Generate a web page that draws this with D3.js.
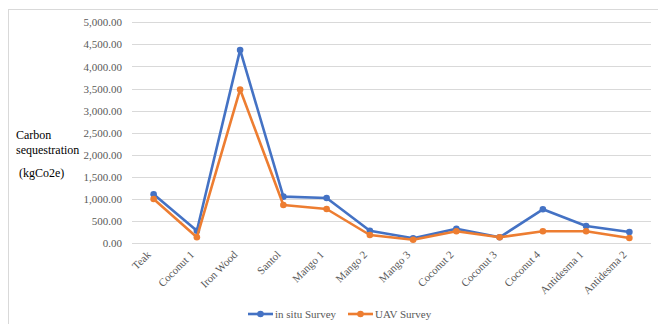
<!DOCTYPE html>
<html>
<head>
<meta charset="utf-8">
<script src="https://cdn.jsdelivr.net/npm/d3@7"></script>
<style>
  body { margin: 0; background: #fff; }
  svg text { font-family: "Liberation Serif", "DejaVu Serif", "Times New Roman", Times, serif !important; }
</style>
</head>
<body>
<svg id="chart" width="658" height="324"></svg>
<script>
// tree names along the x axis
const trees = ["Teak", "Coconut 1", "Iron Wood", "Santol", "Mango 1", "Mango 2",
               "Mango 3", "Coconut 2", "Coconut 3", "Coconut 4", "Antidesma 1", "Antidesma 2"];

// carbon sequestration values (kgCo2e)
const inSitu = [1110, 285, 4375, 1055, 1025, 285, 113, 330, 136, 769, 391, 256];
const uav    = [1002, 136, 3480, 866, 776, 188, 81, 271, 136, 271, 271, 120];

const yTicks = [0, 500, 1000, 1500, 2000, 2500, 3000, 3500, 4000, 4500, 5000];
const seriesNames = ["in situ Survey", "UAV Survey"];
const colors = ["#4472C4", "#ED7D31"];

const svg = d3.select("#chart");

// chart frame
svg.append("rect")
   .attr("x", 8.5).attr("y", 9.5)
   .attr("width", 700).attr("height", 400)
   .attr("fill", "none")
   .attr("stroke", "#d9d9d9");

const plotLeft = 132, plotRight = 651, plotTop = 22.3, plotBottom = 243.3;

const x = d3.scaleBand().domain(trees).range([plotLeft, plotRight]);
const y = d3.scaleLinear().domain([0, 5000]).range([plotBottom, plotTop]);

// gridlines
svg.append("g")
   .selectAll("line")
   .data(yTicks)
   .enter()
   .append("line")
   .attr("x1", plotLeft).attr("x2", plotRight)
   .attr("y1", d => Math.round(y(d)) + 0.5)
   .attr("y2", d => Math.round(y(d)) + 0.5)
   .attr("stroke", "#d9d9d9")
   .attr("stroke-width", 1);

// y axis labels
const fmt = d3.format(",.2f");
const yAxis = svg.append("g")
   .attr("transform", `translate(${plotLeft - 10},0)`)
   .call(d3.axisLeft(y).tickValues(yTicks).tickFormat(fmt).tickSize(0).tickPadding(0));
yAxis.select(".domain").remove();
yAxis.attr("font-family", null).attr("font-size", null);
yAxis.selectAll("text")
     .attr("fill", "#595959")
     .style("font-size", "11px");

// x axis labels, rotated
svg.append("g")
   .selectAll("text")
   .data(trees)
   .enter()
   .append("text")
   .attr("transform", d => `translate(${x(d) + x.bandwidth() / 2 - 2},${plotBottom + 12}) rotate(-45)`)
   .attr("text-anchor", "end")
   .attr("fill", "#595959")
   .style("font-size", "11px")
   .text(d => d);

// axis title
const title = svg.append("text")
   .attr("fill", "#000")
   .style("font-size", "12px");
title.append("tspan").attr("x", 16).attr("y", 139).text("Carbon");
title.append("tspan").attr("x", 16).attr("y", 154).text("sequestration");
title.append("tspan").attr("x", 19).attr("y", 177).text("(kgCo2e)");

// lines and markers
const line = d3.line()
   .x((d, i) => x(trees[i]) + x.bandwidth() / 2)
   .y(d => y(d));

[inSitu, uav].forEach(function(vals, k){
    svg.append("path")
       .datum(vals)
       .attr("d", line)
       .attr("fill", "none")
       .attr("stroke", colors[k])
       .attr("stroke-width", 2.6)
       .attr("stroke-linejoin", "round");

    svg.append("g")
       .selectAll("circle")
       .data(vals)
       .enter()
       .append("circle")
       .attr("cx", (d, i) => x(trees[i]) + x.bandwidth() / 2)
       .attr("cy", d => y(d))
       .attr("r", 3.3)
       .attr("fill", colors[k]);
});

// legend
const legendX = [248, 348];
seriesNames.forEach(function(name, k){
    const g = svg.append("g").attr("transform", `translate(${legendX[k]},314)`);
    g.append("line")
     .attr("x1", 0).attr("x2", 25)
     .attr("stroke", colors[k])
     .attr("stroke-width", 2.6);
    g.append("circle").attr("cx", 12.5).attr("r", 3.3).attr("fill", colors[k]);
    g.append("text")
     .attr("x", 27).attr("y", 4)
     .attr("fill", "#595959")
     .style("font-size", "11px")
     .text(name);
});
</script>
</body>
</html>
